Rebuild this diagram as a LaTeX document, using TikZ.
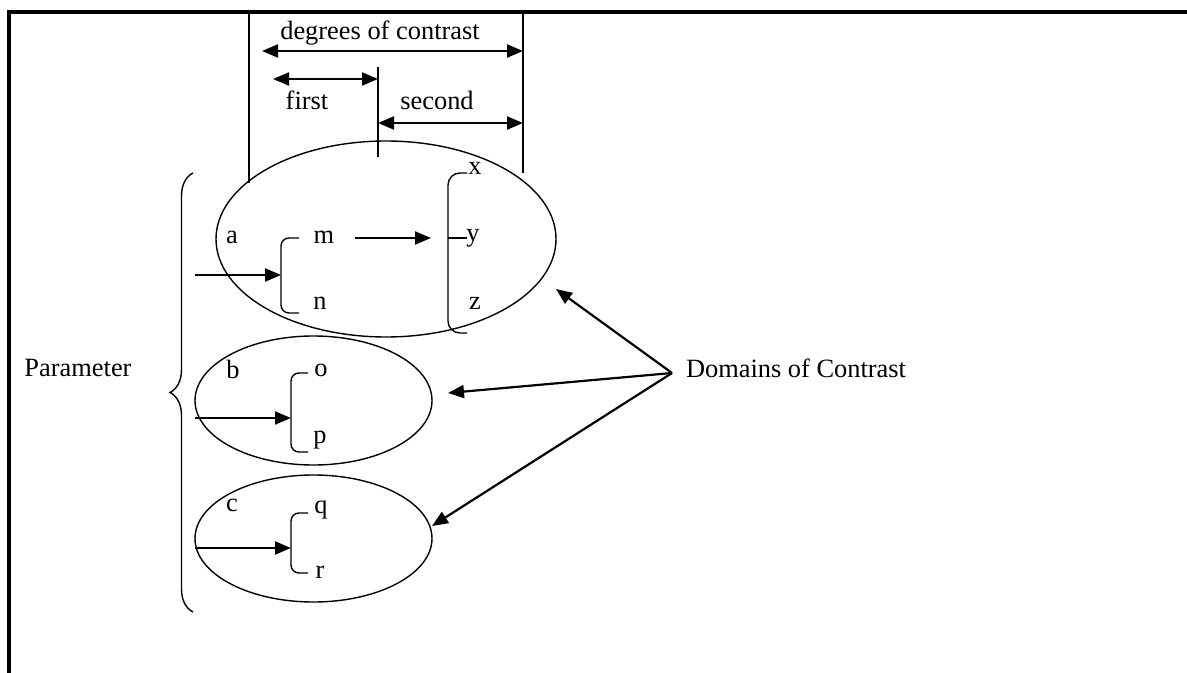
\documentclass[tikz,border=0pt]{standalone}
\usepackage{fontspec}
\setmainfont{Liberation Serif}
\usetikzlibrary{arrows.meta,decorations.pathreplacing}

\tikzset{
  lbl/.style={inner sep=0pt, font=\fontsize{13.2}{15}\selectfont},
  outline/.style={line width=0.7pt},
  arr/.style={line width=1.1pt, -{Triangle[length=8pt,width=6.5pt]}},
  dblarr/.style={line width=1.1pt, {Triangle[length=8pt,width=6.5pt]}-{Triangle[length=8pt,width=6.5pt]}},
}

\begin{document}
\begin{tikzpicture}[x=0.5pt,y=-0.5pt]
			%%%%% START %%%%%
			\useasboundingbox (0,0) rectangle (1187,673);
			
			\draw[line width=1.6pt] (9,673) -- (9,12) -- (1187,12);
			
			% degrees of contrast
			\coordinate (lefttop) at (249,12);
			\coordinate (leftbot) at (249,183);
			\coordinate (righttop) at (523,12);
			\coordinate (rightbot) at (523,173);
			\coordinate (midtop) at (378,67);
			\coordinate (midbot) at (378,157);
			\draw[outline] (lefttop) -- (leftbot);
			\draw[outline] (righttop) -- (rightbot);
			\draw[outline] (midtop) -- (midbot);
			
			\node[lbl] (deg) at (380,33) {degrees of contrast};
			\node[lbl] (first) at (307,100) {first};
			\node[lbl] (second) at (437,100) {second};
			\coordinate (degl) at (262,51);
			\coordinate (degr) at (523,51);
			\coordinate (firstl) at (273,79);
			\coordinate (firstr) at (378,79);
			\coordinate (secondl) at (378,123);
			\coordinate (secondr) at (523,123);
			\draw[dblarr] (degl) -- (degr);
			\draw[dblarr] (firstl) -- (firstr);
			\draw[dblarr] (secondl) -- (secondr);
			
			% parameter a
			\draw[outline] (386,239) ellipse [x radius=170, y radius=98];
			\node[lbl] (a) at (232,237) {a};
			\node[lbl] (m) at (324,237) {m};
			\node[lbl] (n) at (320,303) {n};
			\node[lbl] (x) at (475,168) {x};
			\node[lbl] (y) at (473,238) {y};
			\node[lbl] (z) at (475,303) {z};
			\draw[outline, rounded corners=4pt] (299,238) -- (281,238) -- (281,313) -- (299,313);
			\draw[outline, rounded corners=6pt] (467,173) -- (448,173) -- (448,333) -- (467,333);
			\draw[outline] (448,238) -- (467,238);
			\coordinate (ain) at (195,275);
			\coordinate (abr) at (281,275);
			\coordinate (mout) at (355,238);
			\coordinate (yin) at (431,238);
			\draw[arr] (ain) -- (abr);
			\draw[arr] (mout) -- (yin);
			
			% parameter b
			\draw[outline] (313.5,400.5) ellipse [x radius=118.5, y radius=64.5];
			\node[lbl] (b) at (233,369) {b};
			\node[lbl] (o) at (321,370) {o};
			\node[lbl] (p) at (320,440) {p};
			\draw[outline, rounded corners=4pt] (308,373) -- (291,373) -- (291,452) -- (308,452);
			\coordinate (bin) at (195,418);
			\coordinate (bbr) at (291,418);
			\draw[arr] (bin) -- (bbr);
			
			% parameter c
			\draw[outline] (313.5,538.5) ellipse [x radius=118.5, y radius=63.5];
			\node[lbl] (c) at (232,505) {c};
			\node[lbl] (q) at (321,510) {q};
			\node[lbl] (r) at (320,572) {r};
			\draw[outline, rounded corners=4pt] (308,513) -- (291,513) -- (291,573) -- (308,573);
			\coordinate (cin) at (195,548);
			\coordinate (cbr) at (291,548);
			\draw[arr] (cin) -- (cbr);
			
			% brace and labels
			\draw[outline, decorate, decoration={brace, amplitude=11.5pt}] (193,612) -- (193,173);
			\node[lbl] (param) at (78,368) {Parameter};
			\node[lbl] (dom) at (796,368) {Domains of Contrast};
			
			\coordinate (src) at (672,373);
			\coordinate (toa) at (556,289);
			\coordinate (tob) at (448,393);
			\coordinate (toc) at (432,526);
			\draw[arr] (src) -- (toa);
			\draw[arr] (src) -- (tob);
			\draw[arr] (src) -- (toc);
			
			%%%%% END %%%%%
\end{tikzpicture}
\end{document}
